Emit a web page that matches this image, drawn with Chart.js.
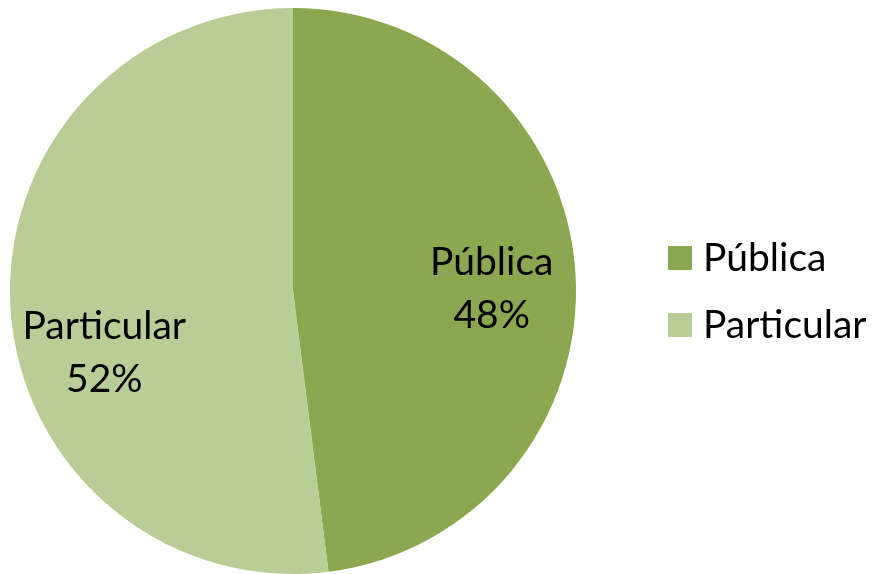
<!DOCTYPE html>
<html>
<head>
<meta charset="utf-8">
<script src="https://cdn.jsdelivr.net/npm/chart.js@4/dist/chart.umd.min.js"></script>
<style>
html,body{margin:0;padding:0;background:#fff;}
#wrap{width:873px;height:574px;position:relative;}
</style>
</head>
<body>
<div id="wrap"><canvas id="c" width="873" height="574"></canvas></div>
<script>
const categories = ["Pública", "Particular"];
const values = [48, 52];
const colors = ["#8BA74F", "#B9CD97"];

const FONT = "Lato, 'Open Sans', sans-serif";
const FONT_SIZE = 39;

const sliceLabels = {
  id: 'sliceLabels',
  afterDatasetsDraw(chart, args, opts) {
    const ctx = chart.ctx;
    const meta = chart.getDatasetMeta(0);
    const total = values.reduce((a, b) => a + b, 0);
    ctx.save();
    ctx.fillStyle = '#000';
    ctx.font = FONT_SIZE + 'px ' + FONT;
    ctx.textAlign = 'center';
    ctx.textBaseline = 'middle';
    meta.data.forEach((arc, i) => {
      const mid = (arc.startAngle + arc.endAngle) / 2;
      const r = arc.outerRadius * 0.7;
      const off = opts.offsets[i] || [0, 0];
      const x = arc.x + Math.cos(mid) * r + off[0];
      const y = arc.y + Math.sin(mid) * r + off[1];
      const pct = Math.round(values[i] / total * 100) + '%';
      ctx.fillText(categories[i], x, y - 26);
      ctx.fillText(pct, x, y + 27);
    });
    ctx.restore();
  }
};

const sideLegend = {
  id: 'sideLegend',
  afterDraw(chart, args, opts) {
    const ctx = chart.ctx;
    ctx.save();
    ctx.font = FONT_SIZE + 'px ' + FONT;
    ctx.textBaseline = 'middle';
    ctx.textAlign = 'left';
    categories.forEach((c, i) => {
      const cy = opts.y + i * opts.gap;
      ctx.fillStyle = colors[i];
      ctx.fillRect(opts.x, cy - 12, 24, 24);
      ctx.fillStyle = '#000';
      ctx.fillText(c, opts.x + 35, cy);
    });
    ctx.restore();
  }
};

new Chart(document.getElementById('c'), {
  type: 'pie',
  data: {
    labels: categories,
    datasets: [{
      data: values,
      backgroundColor: colors,
      borderWidth: 0
    }]
  },
  options: {
    responsive: false,
    animation: false,
    layout: { padding: { left: 10, top: 8, right: 297, bottom: 0 } },
    plugins: {
      legend: { display: false },
      tooltip: { enabled: false },
      sliceLabels: { offsets: [[1, 10], [9, 49]] },
      sideLegend: { x: 668, y: 258, gap: 67 }
    }
  },
  plugins: [sliceLabels, sideLegend]
});
</script>
</body>
</html>
